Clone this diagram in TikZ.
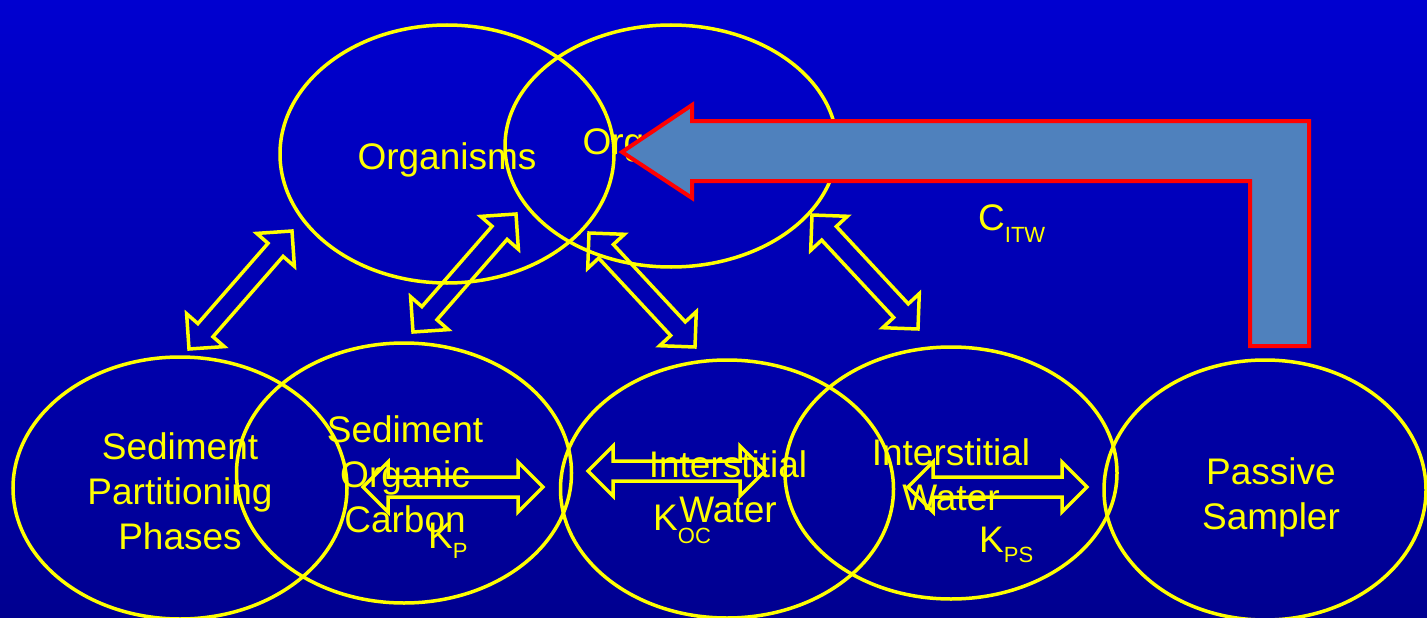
\documentclass[tikz,border=0pt]{standalone}
\usepackage{fontspec}
\setmainfont{Liberation Sans}
\usetikzlibrary{shapes.geometric}
\definecolor{bgtop}{HTML}{0000D0}
\definecolor{bgbot}{HTML}{000090}
\definecolor{ylw}{HTML}{FFFF00}
\definecolor{fillblue}{HTML}{4F81BD}
\definecolor{bred}{HTML}{FF0000}
\tikzset{
  ring/.style={draw=ylw, line width=3.5pt, ellipse, inner sep=0pt},
  lbl/.style={text=ylw, font=\fontsize{37}{45}\selectfont, align=center, inner sep=0pt, anchor=north},
  klbl/.style={text=ylw, font=\fontsize{37}{45}\selectfont, inner sep=0pt, anchor=base west},
  blockarr/.style={draw=ylw, line width=3.5pt, line join=miter},
  bigarr/.style={draw=bred, line width=4pt, fill=fillblue, line join=miter},
}
\newcommand{\subsc}[2]{\raisebox{-#1pt}{\fontsize{22}{22}\selectfont #2}}
% double block arrow between image points (#1,#2) and (#3,#4)
\newcommand{\dblarr}[4]{%
  \pgfmathsetmacro\dAng{atan2(#2-#4,#3-#1)}%
  \pgfmathsetmacro\dLen{veclen(#3-#1,#4-#2)}%
  \begin{scope}[shift={(#1,-#2)},rotate=\dAng]
    \draw[blockarr] (0,0) -- (25,25) -- (25,10) -- (\dLen-25,10) -- (\dLen-25,25)
      -- (\dLen,0) -- (\dLen-25,-25) -- (\dLen-25,-10) -- (25,-10) -- (25,-25) -- cycle;
  \end{scope}}
\begin{document}
\begin{tikzpicture}[x=1pt,y=1pt]
\useasboundingbox (0,0) rectangle (1427,-618);
\shade[top color=bgtop, bottom color=bgbot] (0,0) rectangle (1427,-618);

% ellipses
\node[ring, minimum width=334, minimum height=258] (org1) at (447,-154) {};
\node[ring, minimum width=332, minimum height=242] (org2) at (671,-146) {};
\node[ring, minimum width=334, minimum height=262] (sed1) at (180,-488) {};
\node[ring, minimum width=335, minimum height=260] (sed2) at (404,-473) {};
\node[ring, minimum width=333, minimum height=258] (iw1) at (727,-489) {};
\node[ring, minimum width=332, minimum height=252] (iw2) at (951,-473) {};
\node[ring, minimum width=322, minimum height=260] (ps) at (1265,-490) {};

% texts
\node[lbl] (torg1) at (447,-142) {Organisms};
\node[lbl] (torg2) at (672,-127) {Organisms};
\node[lbl] (tsed1) at (180,-432) {Sediment\\Partitioning\\Phases};
\node[lbl] (tsed2) at (405,-415) {Sediment\\Organic\\Carbon};
\node[lbl] (tiw1) at (728,-450) {Interstitial\\Water};
\node[lbl] (tiw2) at (951,-438) {Interstitial\\Water};
\node[lbl] (tps) at (1271,-457) {Passive\\Sampler};

\node[klbl] (kp) at (428,-548) {K\subsc{10}{P}};
\node[klbl] (koc) at (653,-530) {K\subsc{13}{OC}};
\node[klbl] (kps) at (979,-552) {K\subsc{10}{PS}};
\node[klbl] (citw) at (978,-230) {C\subsc{12}{ITW}};

% diagonal double arrows
\dblarr{189}{349}{292}{231}
\dblarr{413}{332}{516}{214}
\dblarr{589}{233}{695}{347}
\dblarr{812}{215}{918}{329}
% horizontal double arrows
\dblarr{363}{487}{543}{487}
\dblarr{588}{471}{765}{471}
\dblarr{908}{487}{1087}{487}

% big bent arrow
\draw[bigarr] (622,-152) -- (692,-105) -- (692,-121) -- (1309,-121) -- (1309,-346)
  -- (1250,-346) -- (1250,-181) -- (692,-181) -- (692,-198) -- cycle;
\end{tikzpicture}
\end{document}
